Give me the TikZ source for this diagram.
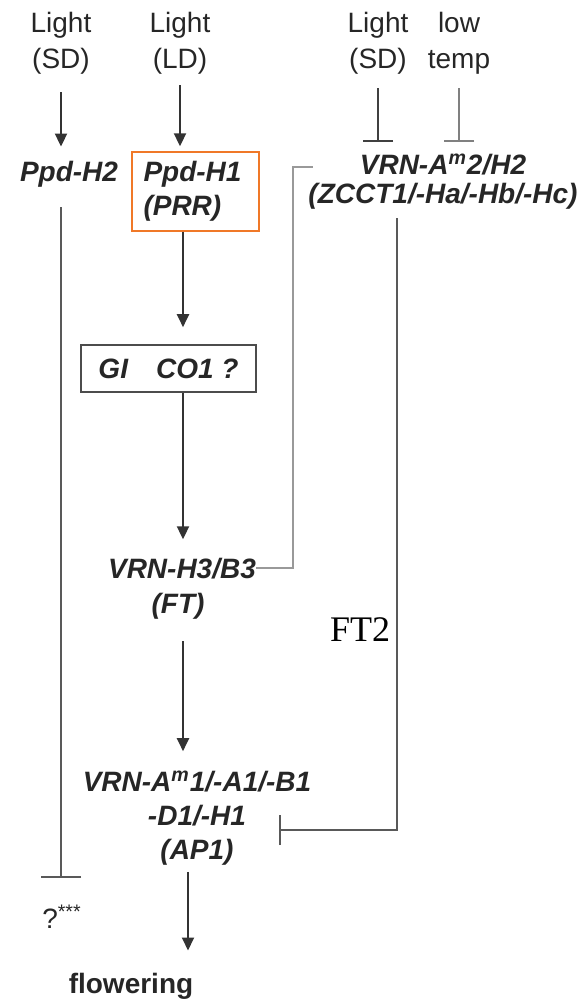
\documentclass[tikz,border=0pt]{standalone}
\usepackage{fontspec}
\setmainfont{Liberation Sans}
\newfontfamily\serfont{Liberation Serif}
\usetikzlibrary{arrows.meta}
\definecolor{ppdorange}{RGB}{240,120,40}

\begin{document}
\begin{tikzpicture}[x=0.5pt,y=-0.5pt,
    txt/.style={inner sep=0pt,text=black!85,align=center,font=\fontsize{14}{18}\selectfont},
    gene/.style={txt,font=\fontsize{14}{17}\selectfont\bfseries\itshape},
    arr/.style={draw=black!80,line width=1pt,-{Triangle[width=6pt,length=6.5pt]}},
    inh/.style={draw=black!65,line width=1pt,-{Bar[width=15pt]}},
  ]
  \useasboundingbox (0,0) rectangle (583,1000);
  % inputs
  \node[txt] (lsd) at (61,43) {Light\\(SD)};
  \node[txt] (lld) at (180,43) {Light\\(LD)};
  \node[txt] (lsd2) at (378,43) {Light\\(SD)};
  \node[txt] (ltemp) at (459,43) {low\\temp};
  % genes
  \node[gene] (ppdh2) at (69,174) {Ppd-H2};
  \node[gene,draw=ppdorange,line width=0.7pt,minimum width=63.5pt,minimum height=39.5pt,
    text width=52pt,inner xsep=5.5pt,align=left] (ppdh1) at (195.5,191.5) {Ppd-H1\\(PRR)};
  \node[gene,anchor=base] (vrn2) at (443,175) {VRN-A\textsuperscript{m}2/H2};
  \node[gene,anchor=base] (zcct) at (443,204) {(ZCCT1/-Ha/-Hb/-Hc)};
  \node[gene,draw=black!70,line width=0.8pt,minimum width=87.5pt,minimum height=23.5pt]
    (gico) at (168.5,368.5) {GI\hspace{14pt}CO1 ?};
  \node[gene,anchor=base] (vrn3) at (182,578) {VRN-H3/B3};
  \node[gene,anchor=base] (ft) at (178,613) {(FT)};
  \node[gene] (ap1) at (197,818) {VRN-A\textsuperscript{m}1/-A1/-B1\\-D1/-H1\\(AP1)};
  \node[txt,font=\fontsize{14}{18}\selectfont\bfseries] (flower) at (131,986) {flowering};
  \node[txt] (q) at (62,917) {?\textsuperscript{***}};
  \node[inner sep=0pt,font=\serfont\fontsize{18}{20}\selectfont] (ftlabel) at (360,630) {FT2};
  % turning points
  \coordinate (mainx) at (183,0);
  \coordinate (brk) at (293,167);
  \coordinate (brkend) at (313,167);
  \coordinate (rturn) at (397,830);
  \coordinate (apbar) at (279,830);
  % connectors
  \draw[arr,shorten <=9pt,shorten >=7pt] (lsd.south) -- (lsd.south |- ppdh2.north);
  \draw[arr,shorten <=5.5pt,shorten >=2.5pt] (lld.south) -- (lld.south |- ppdh1.north);
  \draw[inh,draw=black!75,shorten <=7pt,shorten >=6pt] (lsd2.south) -- (lsd2.south |- vrn2.north);
  \draw[inh,draw=black!50,shorten <=7pt,shorten >=6pt] (ltemp.south) -- (ltemp.south |- vrn2.north);
  \draw[arr,shorten >=8.5pt] (mainx |- ppdh1.south) -- (mainx |- gico.north);
  \draw[arr,shorten >=9pt] (mainx |- gico.south) -- (mainx |- vrn3.north);
  \draw[arr,shorten <=11pt,shorten >=9.5pt] (mainx |- ft.south) -- (mainx |- ap1.north);
  \draw[arr,shorten <=3pt,shorten >=11pt] ([xshift=2.5pt]mainx |- ap1.south) -- ([xshift=2.5pt]mainx |- flower.north);
  \draw[inh,-{Bar[width=20pt]},shorten <=10pt,shorten >=13.5pt] (lsd.south |- ppdh2.south) -- (lsd.south |- q.north);
  \draw[inh,shorten <=4pt] (rturn |- zcct.south) -- (rturn) -- (apbar);
  \draw[draw=black!40,line width=1.2pt] (vrn3.east) -| (brk) -- (brkend);
\end{tikzpicture}
\end{document}
